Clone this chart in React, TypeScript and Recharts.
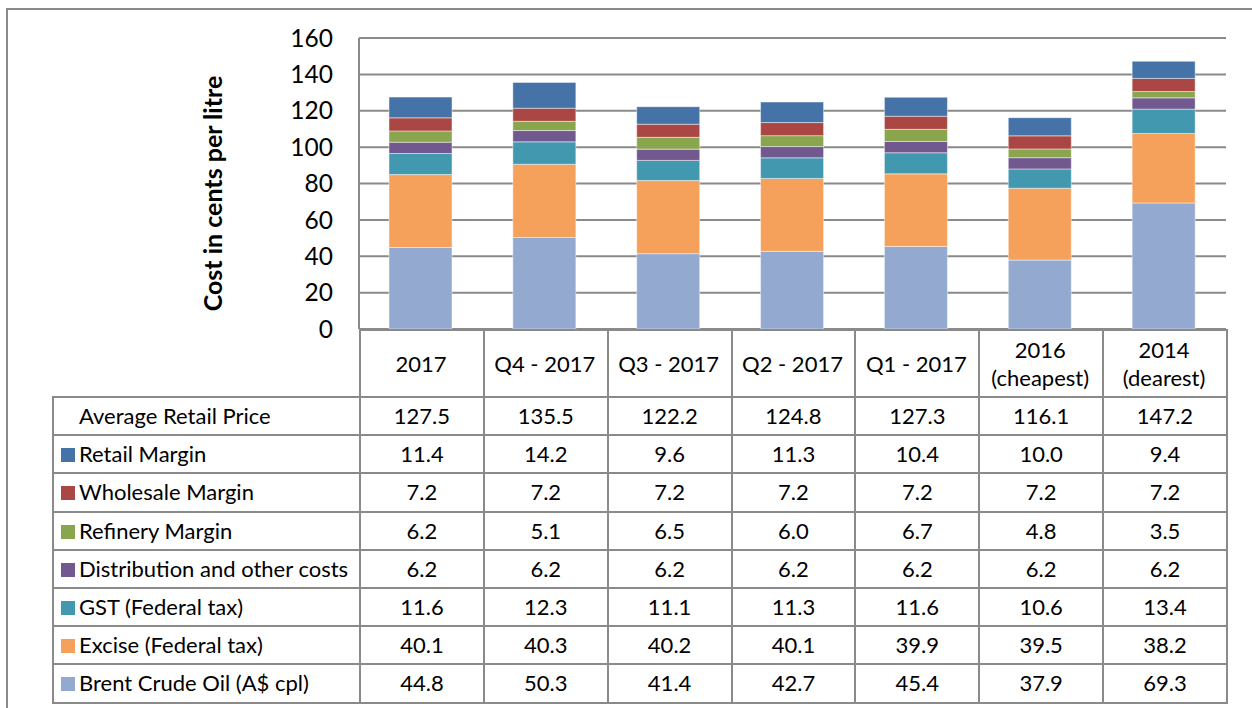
import { BarChart, Bar, XAxis, YAxis, CartesianGrid } from 'recharts';

// categories, multi-line labels split on \n
const periods = ['2017', 'Q4 - 2017', 'Q3 - 2017', 'Q2 - 2017', 'Q1 - 2017', '2016\n(cheapest)', '2014\n(dearest)'];

const avgRetailPrice = [127.5, 135.5, 122.2, 124.8, 127.3, 116.1, 147.2];
const retailMargin = [11.4, 14.2, 9.6, 11.3, 10.4, 10.0, 9.4];
const wholesaleMargin = [7.2, 7.2, 7.2, 7.2, 7.2, 7.2, 7.2];
const refineryMargin = [6.2, 5.1, 6.5, 6.0, 6.7, 4.8, 3.5];
const distributionCosts = [6.2, 6.2, 6.2, 6.2, 6.2, 6.2, 6.2];
const gstTax = [11.6, 12.3, 11.1, 11.3, 11.6, 10.6, 13.4];
const exciseTax = [40.1, 40.3, 40.2, 40.1, 39.9, 39.5, 38.2];
const brentCrude = [44.8, 50.3, 41.4, 42.7, 45.4, 37.9, 69.3];

const yTicks = [0, 20, 40, 60, 80, 100, 120, 140, 160];

// table order (top to bottom); bars are stacked in reverse
const series = [
  { key: 'retail', name: 'Retail Margin', color: '#4572A7', values: retailMargin },
  { key: 'wholesale', name: 'Wholesale Margin', color: '#AA4643', values: wholesaleMargin },
  { key: 'refinery', name: 'Refinery Margin', color: '#89A54E', values: refineryMargin },
  { key: 'distribution', name: 'Distribution and other costs', color: '#71588F', values: distributionCosts },
  { key: 'gst', name: 'GST (Federal tax)', color: '#4198AF', values: gstTax },
  { key: 'excise', name: 'Excise (Federal tax)', color: '#F6A15B', values: exciseTax },
  { key: 'brent', name: 'Brent Crude Oil (A$ cpl)', color: '#93A9CF', values: brentCrude },
];

const chartData = periods.map((period, i) => {
  const row: Record<string, string | number> = { period };
  series.forEach(s => { row[s.key] = s.values[i]; });
  return row;
});

const FONT = 'Lato, "Open Sans", sans-serif';
const LINE = '#8a8a8a';

function CategoryTick({ x, y, payload }: any) {
  const lines = String(payload.value).split('\n');
  const lh = 28;
  const top = y + 34 - ((lines.length - 1) * lh) / 2;
  return (
    <text x={x} y={top} textAnchor="middle" dominantBaseline="central" fontFamily={FONT} fontSize={22} fill="#000">
      {lines.map((l, i) => (
        <tspan key={i} x={x} y={top + i * lh}>{l}</tspan>
      ))}
    </text>
  );
}

function YLabel({ viewBox }: any) {
  const cx = 212;
  const cy = viewBox.y + viewBox.height / 2 + 10;
  return (
    <text x={cx} y={cy} transform={`rotate(-90 ${cx} ${cy})`} textAnchor="middle" dominantBaseline="central"
      fontFamily={FONT} fontSize={25} fontWeight={700} fill="#000">
      Cost in cents per litre
    </text>
  );
}

const cell: React.CSSProperties = {
  border: `2px solid ${LINE}`,
  textAlign: 'center',
  padding: 0,
  fontSize: 22,
  color: '#000',
};

export default function App() {
  const tableRows = [
    { name: 'Average Retail Price', color: null as string | null, values: avgRetailPrice },
    ...series.map(s => ({ name: s.name, color: s.color as string | null, values: s.values })),
  ];

  return (
    <div style={{ position: 'fixed', left: 0, top: 0, width: 1252, height: 708, overflow: 'hidden', background: '#fff', fontFamily: FONT }}>
      <div style={{ position: 'absolute', left: 6, top: 8, width: 1300, height: 800, border: `2px solid ${LINE}`, boxSizing: 'border-box' }} />
      <div style={{ position: 'absolute', left: 0, top: 0 }}>
        <BarChart width={1252} height={396} data={chartData} margin={{ top: 38, right: 26, left: 0, bottom: 0 }}>
          <CartesianGrid vertical={false} stroke={LINE} strokeWidth={2} />
          <XAxis dataKey="period" height={67} axisLine={false} tickLine={false} tickSize={0} tickMargin={0}
            interval={0} tick={<CategoryTick />} />
          <YAxis width={359} domain={[0, 160]} ticks={yTicks} interval={0} tickLine={false} tickSize={0} tickMargin={26}
            axisLine={{ stroke: LINE, strokeWidth: 2 }}
            tick={{ fill: '#000', fontSize: 24.5, fontFamily: FONT }}
            label={{ content: <YLabel /> }} />
          {[...series].reverse().map(s => (
            <Bar key={s.key} dataKey={s.key} name={s.name} stackId="cost" fill={s.color} barSize={63}
              stroke="#ffffff" strokeOpacity={0.45} strokeWidth={1} isAnimationActive={false} />
          ))}
        </BarChart>
      </div>
      <table style={{ position: 'absolute', left: 52, top: 329, width: 1174, borderCollapse: 'collapse', tableLayout: 'fixed', fontFamily: FONT }}>
        <colgroup>
          <col style={{ width: 307 }} />
          {periods.map(p => <col key={p} style={{ width: 867 / 7 }} />)}
        </colgroup>
        <tbody>
          <tr style={{ height: 67 }}>
            <td style={{ padding: 0, borderRight: `2px solid ${LINE}`, borderBottom: `2px solid ${LINE}` }} />
            {periods.map(p => <td key={p} style={cell} />)}
          </tr>
          {tableRows.map(r => (
            <tr key={r.name} style={{ height: 38.2 }}>
              <td style={{ ...cell, textAlign: 'left', paddingLeft: 7, whiteSpace: 'nowrap', lineHeight: '26px' }}>
                <span style={{ display: 'inline-block', width: 14, height: 14, marginRight: 4, background: r.color ?? 'transparent', verticalAlign: 0 }} />
                {r.name}
              </td>
              {r.values.map((v, i) => (
                <td key={i} style={{ ...cell, lineHeight: '26px' }}>{v.toFixed(1)}</td>
              ))}
            </tr>
          ))}
        </tbody>
      </table>
    </div>
  );
}
